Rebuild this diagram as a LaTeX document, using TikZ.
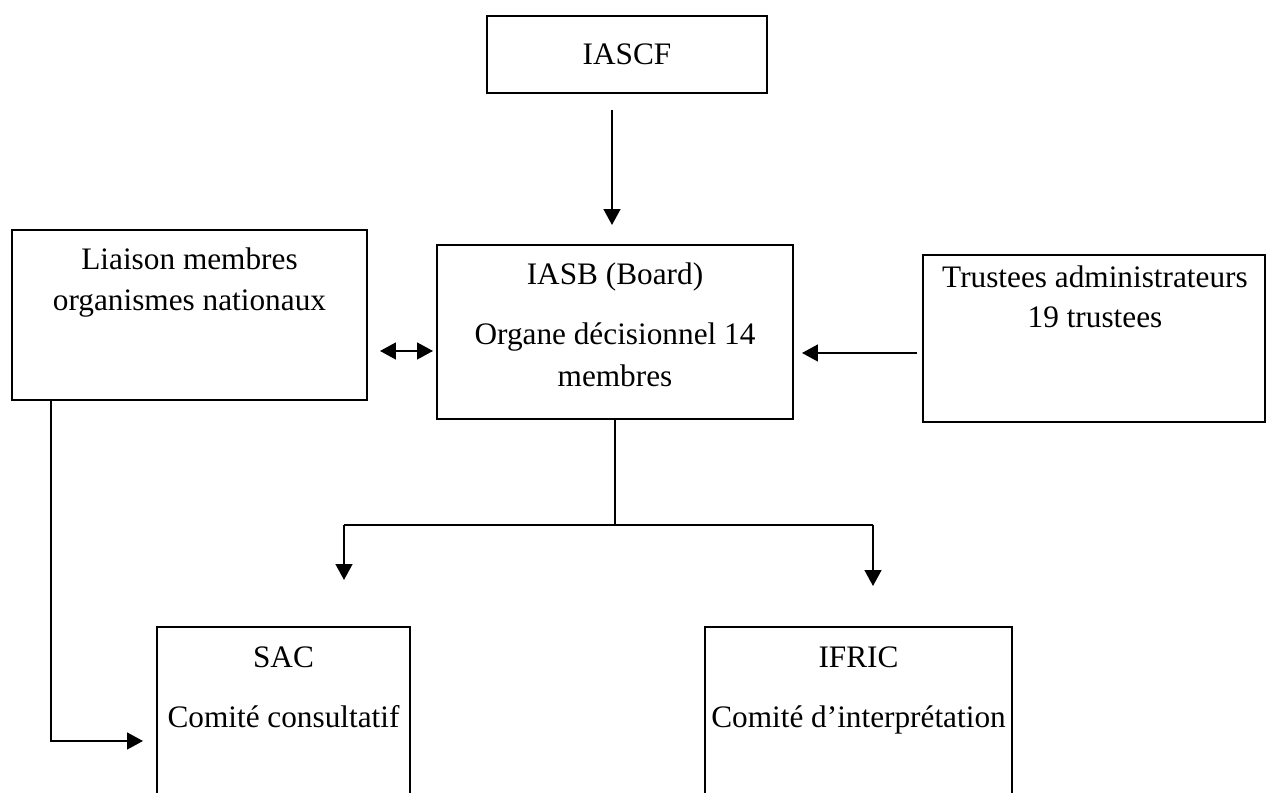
\documentclass[tikz,border=0pt]{standalone}
\usepackage{fontspec}
\setmainfont{Liberation Serif}
\usetikzlibrary{arrows.meta, positioning}

\begin{document}
\begin{tikzpicture}[
    boite/.style={draw, line width=0.9pt, inner sep=0pt},
    texte/.style={anchor=base, inner sep=0pt, font=\fontsize{17.8}{23.5}\selectfont},
    trait/.style={line width=1.1pt},
    fleche/.style={line width=1.1pt, -{Triangle[length=9pt, width=9.5pt]}},
    dfleche/.style={line width=1.1pt, {Triangle[length=9pt, width=9.5pt]}-{Triangle[length=9pt, width=9.5pt]}}
  ]
  \useasboundingbox (0,0) rectangle (25.34,15.86);
  \clip (0,0) rectangle (25.34,15.86);

  % Boites
  \node[boite, minimum width=5.6cm, minimum height=1.54cm] (iascf) at (12.54,14.77) {};
  \node[boite, minimum width=7.1cm, minimum height=3.4cm] (liaison) at (3.79,9.56) {};
  \node[boite, minimum width=7.12cm, minimum height=3.48cm] (iasb) at (12.3,9.22) {};
  \node[boite, minimum width=6.84cm, minimum height=3.34cm] (trustees) at (21.88,9.09) {};
  \node[boite, minimum width=5.06cm, minimum height=4cm] (sac) at (5.67,1.32) {};
  \node[boite, minimum width=6.14cm, minimum height=4cm] (ifric) at (17.17,1.32) {};

  % Textes
  \node[texte] (iascf-t) at (12.54,14.57) {IASCF};
  \node[texte] (liaison-t1) at (3.79,10.46) {Liaison membres};
  \node[texte] (liaison-t2) at (3.79,9.64) {organismes nationaux};
  \node[texte] (iasb-t1) at (12.3,10.16) {IASB (Board)};
  \node[texte] (iasb-t2) at (12.3,8.96) {Organe décisionnel 14};
  \node[texte] (iasb-t3) at (12.3,8.12) {membres};
  \node[texte] (trustees-t1) at (21.9,10.1) {Trustees administrateurs};
  \node[texte] (trustees-t2) at (21.9,9.3) {19 trustees};
  \node[texte] (sac-t1) at (5.67,2.5) {SAC};
  \node[texte] (sac-t2) at (5.67,1.3) {Comité consultatif};
  \node[texte] (ifric-t1) at (17.17,2.5) {IFRIC};
  \node[texte] (ifric-t2) at (17.17,1.3) {Comité d’interprétation};

  % Points des fleches
  \coordinate (hautA) at (12.24,13.66);
  \coordinate (basA) at (12.24,11.36);
  \coordinate (dblG) at (7.6,8.84);
  \coordinate (dblD) at (8.66,8.84);
  \coordinate (trD) at (18.34,8.8);
  \coordinate (trG) at (16.04,8.8);
  \coordinate (embr) at (12.3,5.36);
  \coordinate (embrG) at (6.88,5.36);
  \coordinate (embrD) at (17.46,5.36);
  \coordinate (sacF) at (6.88,4.26);
  \coordinate (ifricF) at (17.46,4.14);
  \coordinate (lienB) at (1.02,1.04);
  \coordinate (lienF) at (2.86,1.04);

  % Fleches
  \draw[fleche] (hautA) -- (basA);
  \draw[dfleche] (dblG) -- (dblD);
  \draw[fleche] (trD) -- (trG);
  \draw[trait] (iasb.south) -- (embr);
  \draw[trait] (embrG) -- (embrD);
  \draw[fleche] (embrG) -- (sacF);
  \draw[fleche] (embrD) -- (ifricF);
  \draw[fleche] (liaison.south -| lienB) -- (lienB) -- (lienF);
\end{tikzpicture}
\end{document}
